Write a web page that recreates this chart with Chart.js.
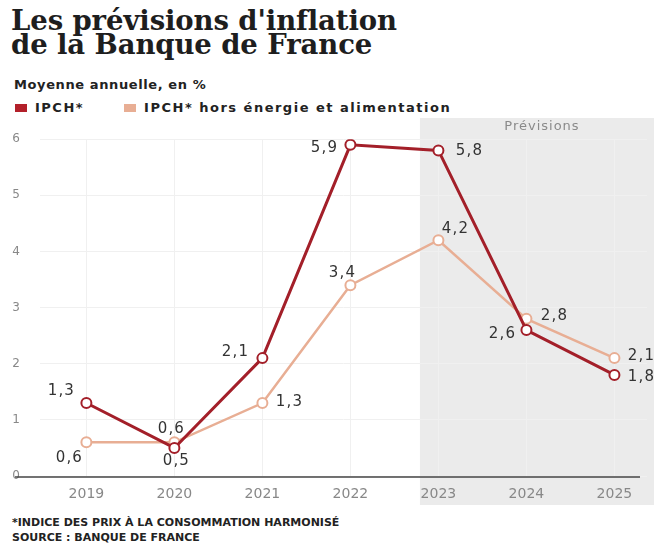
<!DOCTYPE html>
<html><head><meta charset="utf-8">
<script src="https://cdn.jsdelivr.net/npm/chart.js@4.4.1/dist/chart.umd.min.js"></script>
<style>
body{margin:0;width:654px;height:543px;background:#fff;position:relative;overflow:hidden;font-family:"Open Sans",sans-serif;color:#222}
#title{position:absolute;left:11px;top:8px;font:bold 27.5px/24px "DejaVu Serif",serif;color:#1e1e1e;letter-spacing:-0.1px}
#sub{position:absolute;left:14px;top:77px;font:bold 13px "DejaVu Sans",sans-serif;color:#222;letter-spacing:0.6px}
#legend{position:absolute;left:15px;top:100px;font:bold 13px "DejaVu Sans",sans-serif;color:#222;white-space:nowrap;letter-spacing:1.5px}
#legend span.sw{display:inline-block;width:12px;height:8px;margin-right:8px;vertical-align:0px}
#legend span.it{margin-right:40px}
#foot{position:absolute;left:12px;top:515px;font:bold 11px/15px "DejaVu Sans",sans-serif;color:#222}
#c{position:absolute;left:0;top:112px}
</style></head>
<body>
<div id="title">Les prévisions d'inflation<br>de la Banque de France</div>
<div id="sub">Moyenne annuelle, en %</div>
<div id="legend"><span class="sw" style="background:#b3202a"></span><span class="it">IPCH*</span><span class="sw" style="background:#e8ae94"></span><span>IPCH* hors énergie et alimentation</span></div>
<canvas id="c" width="654" height="400"></canvas>
<div id="foot">*INDICE DES PRIX À LA CONSOMMATION HARMONISÉ<br>SOURCE : BANQUE DE FRANCE</div>
<script>
const years = [2019, 2020, 2021, 2022, 2023, 2024, 2025];
const ipch = [1.3, 0.5, 2.1, 5.9, 5.8, 2.6, 1.8];
const ipchCore = [0.6, 0.6, 1.3, 3.4, 4.2, 2.8, 2.1];
const yTicks = [0, 1, 2, 3, 4, 5, 6];
const forecastLabel = "Prévisions";
const firstForecastYear = 2023;

const RED = '#a31f29', BEIGE = '#e8ae94';

// label offsets (px) per dataset / point
const labelOffsets = [
  [[-26,-12],[1,13],[-28,-6],[-27,3],[30,1],[-25,4],[26,2]],
  [[-18,16],[-4,-13],[26,-1],[-9,-12],[16,-11],[27,-3],[26,-2]]
];

const shadePlugin = {
  id: 'shade',
  beforeDraw(chart) {
    const {ctx, scales:{x}} = chart;
    const left = x.getPixelForValue(firstForecastYear - 0.21);
    ctx.save();
    ctx.fillStyle = '#ebebeb';
    ctx.fillRect(left, 6, chart.width - left, 387);
    ctx.fillStyle = '#8a8a8a';
    ctx.font = '13px "DejaVu Sans", sans-serif';
    ctx.letterSpacing = '1px';
    ctx.textAlign = 'center';
    ctx.textBaseline = 'middle';
    ctx.fillText(forecastLabel, (left + chart.width) / 2 + 5, 15);
    ctx.restore();
  },
  beforeDatasetsDraw(chart) {
    const {ctx, scales:{y}} = chart;
    const py = y.getPixelForValue(0) + 1;
    ctx.save();
    ctx.strokeStyle = '#444';
    ctx.lineWidth = 1.5;
    ctx.beginPath();
    ctx.moveTo(15, py);
    ctx.lineTo(640, py);
    ctx.stroke();
    ctx.restore();
  },
  afterDatasetsDraw(chart) {
    const {ctx} = chart;
    ctx.save();
    ctx.font = '15px "DejaVu Sans", sans-serif';
    ctx.letterSpacing = '1.2px';
    ctx.fillStyle = '#333';
    ctx.textAlign = 'center';
    ctx.textBaseline = 'middle';
    chart.data.datasets.forEach((ds, di) => {
      const meta = chart.getDatasetMeta(di);
      meta.data.forEach((pt, i) => {
        const o = labelOffsets[di][i];
        ctx.fillText(ds.data[i].y.toFixed(1).replace('.', ','), pt.x + o[0] + 1, pt.y + o[1]);
      });
    });
    ctx.restore();
  }
};

new Chart(document.getElementById('c'), {
  type: 'line',
  data: {
    datasets: [
      {label: 'IPCH*', data: years.map((yr, i) => ({x: yr, y: ipch[i]})), borderColor: RED, borderWidth: 3,
       pointRadius: 5, pointBorderWidth: 2, pointBackgroundColor: '#fff', pointBorderColor: RED},
      {label: 'IPCH* hors énergie et alimentation', data: years.map((yr, i) => ({x: yr, y: ipchCore[i]})), borderColor: BEIGE, borderWidth: 2.5,
       pointRadius: 5, pointBorderWidth: 2, pointBackgroundColor: '#fff', pointBorderColor: BEIGE}
    ]
  },
  options: {
    responsive: false,
    animation: false,
    layout: {padding: {top: 26, left: 0, right: 0, bottom: 0}},
    plugins: {legend: {display: false}, tooltip: {enabled: false}},
    scales: {
      x: {
        type: 'linear', min: 2018.473, max: 2025.37,
        afterBuildTicks: s => { s.ticks = years.map(v => ({value: v})); },
        afterFit: s => { s.height = 36; s.paddingLeft = 0; s.paddingRight = 0; },
        grid: {color: '#f0f0f0', drawTicks: false},
        border: {display: false},
        ticks: {padding: 10, color: '#888', font: {size: 14, family: '"DejaVu Sans", sans-serif'}, callback: v => String(v)}
      },
      y: {
        min: 0, max: 6,
        afterBuildTicks: s => { s.ticks = yTicks.map(v => ({value: v})); },
        afterFit: s => { s.width = 40; },
        grid: {color: '#f0f0f0', drawTicks: false},
        border: {display: false},
        ticks: {padding: 20, color: '#888', font: {size: 12, family: '"DejaVu Sans", sans-serif'}}
      }
    }
  },
  plugins: [shadePlugin]
});
</script>
</body></html>
